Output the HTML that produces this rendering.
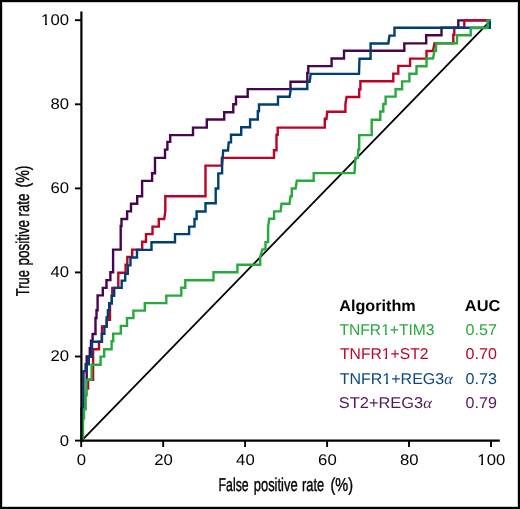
<!DOCTYPE html>
<html><head><meta charset="utf-8"><style>
html,body{margin:0;padding:0;background:#fff;}
svg{display:block;will-change:transform;text-rendering:geometricPrecision;}
text{font-family:"Liberation Sans",sans-serif;}
</style></head><body>
<svg width="520" height="509" viewBox="0 0 520 509">
<rect x="0" y="0" width="520" height="509" fill="#fff"/>
<rect x="2.5" y="2.5" width="515" height="504" fill="none" stroke="#cfcfcf" stroke-width="1"/>
<rect x="1" y="1" width="518" height="507" fill="none" stroke="#000" stroke-width="2"/>
<g fill="none" stroke-width="2.4" stroke-linejoin="miter" stroke-linecap="butt">
<line x1="81.2" y1="441.1" x2="490.5" y2="20.7" stroke="#000" stroke-width="1.8"/>
<g transform="translate(0,0.2)">
<polyline stroke="#48054f" stroke-width="1.4" points="83,441 83,418 84,418 84,409 85.5,409 85.5,395 86.5,395 86.5,379.6"/>
<polyline stroke="#48054f" points="86.7,379.6 86.7,356.2 89.8,356.2 89.8,348 91,348 91,340.5 92.6,340.5 92.6,333.8 95.5,333.8 95.5,317.8 96.5,317.8 96.5,310 97.6,310 97.6,295.2 102.8,295.2 102.8,287.7 106.5,287.7 106.5,279.9 110.4,279.9 110.4,272 113.1,272 113.1,249.4 120.7,249.4 120.7,225.8 121.5,225.8 121.5,218.8 127.1,218.8 127.1,211.2 131,211.2 131,203.6 137.2,203.6 137.2,196 142.1,196 142.1,180.7 152.1,180.7 152.1,173 155,173 155,157.7 165,157.7 165,149.4 167.4,149.4 167.4,141.7 170.2,141.7 170.2,134.9 193,134.9 193,127.4 206.8,127.4 206.8,119.3 224.2,119.3 224.2,112 233.3,112 233.3,104 236,104 236,96.5 247.7,96.5 247.7,88.9 290.5,88.9 290.5,81.5 307.3,81.5 307.3,72.7 308.3,72.7 308.3,65.9 331.6,65.9 331.6,58.3 344,58.3 344,50.6 404.3,50.6 404.3,43.2 426.2,43.2 426.2,35.1 441.5,35.1 441.5,27.6 458.3,27.6 458.3,20.2 490.5,20.2"/>
<polyline stroke="#bd0325" stroke-width="1.4" points="83,441 83,418 84,418 84,409 85.5,409 85.5,395 86.5,395 86.5,388.3"/>
<polyline stroke="#bd0325" points="86.5,388.3 88.1,388.3 88.1,379.6 93.1,379.6 93.1,349 99,349 99,341.5 102,341.5 102,326.3 106.7,326.3 106.7,319.5 110,319.5 110,303 111.8,303 111.8,295.6 112.3,295.6 112.3,287.7 118.3,287.7 118.3,272.5 125.6,272.5 125.6,264.6 127.3,264.6 127.3,256.8 132.2,256.8 132.2,249.4 142.2,249.4 142.2,241.5 146,241.5 146,233.9 152.5,233.9 152.5,226.4 158.8,226.4 158.8,218.8 164.2,218.8 165.3,211.2 165.3,196 205.5,196 205.5,165.4 221.8,165.4 221.8,157.7 274,157.7 274,150 276.5,150 276.5,134.5 277.7,134.5 277.7,127.4 324.8,127.4 324.8,118.6 326.5,118.6 327.2,111.6 345.4,111.6 345.4,104 346.6,96.8 359.2,96.8 359.2,89.2 360.4,89.2 360.4,81.1 393.3,81.1 393.3,73.4 398.3,73.4 398.3,65.7 410.1,65.7 410.1,58.4 426.5,58.4 426.5,50.8 433,50.8 434.5,43.1 453.3,43.1 453.3,34.5 454.3,34.5 454.3,27.6 464.3,27.6 464.3,20.2 490.5,20.2"/>
<polyline stroke="#003f76" points="81.5,441 81.5,408 83.5,408 83.5,371 85.6,371 85.6,364 88.8,364 88.8,356.6 92,356.6 92,341.5 101.8,341.5 101.8,333.6 104.4,333.6 104.4,326.3 106.7,326.3 106.7,317 107.9,317 107.9,310 109.2,310 109.2,303 111.8,303 111.8,295.6 114.2,295.6 114.2,287.7 121.7,287.7 121.7,280.4 125.2,280.4 125.2,273.5 127.8,273.5 127.8,265.2 130.5,265.2 130.5,257.3 137,257.3 137,249.7 151.5,249.7 151.5,242 175,242 175,233.9 189.1,233.9 189.1,226.4 194.5,226.4 194.5,218.8 196.6,218.8 196.6,211.3 205.5,211.3 205.5,203 215.7,203 215.7,188.3 218.3,188.3 218.3,173.2 222.1,173.2 222.1,166 223.2,150.3 228,150.3 228.7,142.2 231,142.2 231,134.6 241.2,134.6 241.2,127 250.1,127 250.1,119.3 257.8,119.3 257.8,111 259,111 259,104.3 278,104.3 278,96.5 289.6,96.5 290.8,88.8 307.3,88.8 307.3,81.6 309.7,81.6 310.7,73.7 359,73.7 359.5,58.5 370.6,58.5 370.6,43.3 388.3,43.3 389.5,35.4 394.5,35.4 394.5,27.6 489.8,27.6 489.8,20.2"/>
<polyline stroke="#26aa3c" points="83,441 83,418 84,418 84,409 85.5,409 85.5,395 86.5,395 86.5,379.6 91.6,379.6 91.6,364.5 100.6,364.5 100.6,356.4 104.2,356.4 104.2,349 111.6,349 111.6,341 113.2,341 113.2,333.4 120.8,333.4 120.8,325.7 127,325.7 127,317.9 133.4,317.9 133.4,310.4 144.8,310.4 144.8,302.9 166.3,302.9 166.3,295.4 181.3,295.4 181.3,287.6 185.3,287.6 185.3,280.1 213.5,280.1 213.5,272.1 237.4,272.1 237.4,264.5 260.2,264.5 260.2,256.8 262.4,249.2 265.5,249.2 265.5,241.9 268.1,241.9 268.1,227 269.2,218.6 274.1,218.6 274.1,211.2 280.6,211.2 281.5,203.6 289.5,203.6 290.5,196 291.8,196 291.8,188.3 295.6,188.3 296.8,180.6 313.7,180.6 313.7,172.9 354.5,172.9 355.5,157.7 357.8,157.7 358.3,149.5 359.2,149.5 359.2,134.9 371.7,134.9 371.7,119.5 380.3,119.5 380.3,111.3 383.3,111.3 383.3,103.8 385.6,103.8 385.6,96.4 395.6,96.4 395.6,89 402.1,89 402.1,81.2 409.4,81.2 409.4,73.6 416.5,73.6 416.5,66 426.5,66 426.5,58.3 433,58.3 434.5,50.5 436,50.5 436,43.1 457,43.1 457,35 470.7,35 470.7,27.8 487.6,27.8 487.6,20.2 490.5,20.2"/>
</g>
</g>
<g stroke="#000" stroke-width="2">
<line x1="81.4" y1="11.4" x2="81.4" y2="441.7" stroke-width="2.2"/>
<line x1="80.3" y1="440.6" x2="499.8" y2="440.6" stroke-width="2.2"/>
<line stroke-width="1.9" x1="75" x2="81" y1="440.6" y2="440.6"/><line stroke-width="1.9" x1="75" x2="81" y1="356.5" y2="356.5"/><line stroke-width="1.9" x1="75" x2="81" y1="272.4" y2="272.4"/><line stroke-width="1.9" x1="75" x2="81" y1="188.4" y2="188.4"/><line stroke-width="1.9" x1="75" x2="81" y1="104.3" y2="104.3"/><line stroke-width="1.9" x1="75" x2="81" y1="20.2" y2="20.2"/><line stroke-width="1.9" x1="81.2" x2="81.2" y1="441" y2="447"/><line stroke-width="1.9" x1="163.2" x2="163.2" y1="441" y2="447"/><line stroke-width="1.9" x1="245.1" x2="245.1" y1="441" y2="447"/><line stroke-width="1.9" x1="327.1" x2="327.1" y1="441" y2="447"/><line stroke-width="1.9" x1="409.0" x2="409.0" y1="441" y2="447"/><line stroke-width="1.9" x1="491.0" x2="491.0" y1="441" y2="447"/>
</g>
<g font-size="15.5" fill="#000"><text x="69" y="445.5" text-anchor="end" textLength="9.29" lengthAdjust="spacingAndGlyphs">0</text><text x="69" y="361.4" text-anchor="end" textLength="18.58" lengthAdjust="spacingAndGlyphs">20</text><text x="69" y="277.3" text-anchor="end" textLength="18.58" lengthAdjust="spacingAndGlyphs">40</text><text x="69" y="193.3" text-anchor="end" textLength="18.58" lengthAdjust="spacingAndGlyphs">60</text><text x="69" y="109.2" text-anchor="end" textLength="18.58" lengthAdjust="spacingAndGlyphs">80</text><text x="69" y="25.1" text-anchor="end" textLength="27.86" lengthAdjust="spacingAndGlyphs">100</text><text x="81.5" y="464.9" text-anchor="middle" textLength="9.29" lengthAdjust="spacingAndGlyphs">0</text><text x="163.5" y="464.9" text-anchor="middle" textLength="18.58" lengthAdjust="spacingAndGlyphs">20</text><text x="245.4" y="464.9" text-anchor="middle" textLength="18.58" lengthAdjust="spacingAndGlyphs">40</text><text x="327.4" y="464.9" text-anchor="middle" textLength="18.58" lengthAdjust="spacingAndGlyphs">60</text><text x="409.3" y="464.9" text-anchor="middle" textLength="18.58" lengthAdjust="spacingAndGlyphs">80</text><text x="491.3" y="464.9" text-anchor="middle" textLength="27.86" lengthAdjust="spacingAndGlyphs">100</text></g>
<g stroke="#000" stroke-width="0.4">
<text x="218.6" y="491.2" font-size="18.6" textLength="30.06" lengthAdjust="spacingAndGlyphs">False</text>
<text x="253.7" y="491.2" font-size="18.6" textLength="44.0" lengthAdjust="spacingAndGlyphs">positive</text>
<text x="302.0" y="491.2" font-size="18.6" textLength="22.2" lengthAdjust="spacingAndGlyphs">rate</text>
<text x="330.4" y="491.2" font-size="18.6" textLength="22.6" lengthAdjust="spacingAndGlyphs">(%)</text>
<text transform="translate(28.9,296.2) rotate(-90)" font-size="18.6" textLength="26.1" lengthAdjust="spacingAndGlyphs">True</text>
<text transform="translate(28.9,265.5) rotate(-90)" font-size="18.6" textLength="45.6" lengthAdjust="spacingAndGlyphs">positive</text>
<text transform="translate(28.9,216.4) rotate(-90)" font-size="18.6" textLength="22.7" lengthAdjust="spacingAndGlyphs">rate</text>
<text transform="translate(28.9,187.6) rotate(-90)" font-size="18.6" textLength="22.1" lengthAdjust="spacingAndGlyphs">(%)</text>
</g>
<g font-size="15.6">
<text x="339.3" y="310.6" font-weight="bold" font-size="15.8" textLength="76.4" lengthAdjust="spacingAndGlyphs">Algorithm</text>
<text x="464.8" y="310.7" font-weight="bold" font-size="15.8" textLength="35.5" lengthAdjust="spacingAndGlyphs">AUC</text>
<text x="339.5" y="334.8" fill="#26aa3c" textLength="95" lengthAdjust="spacingAndGlyphs">TNFR1+TIM3</text><text x="465.6" y="334.8" fill="#26aa3c" textLength="31.3" lengthAdjust="spacingAndGlyphs">0.57</text>
<text x="340" y="359.2" fill="#bd0325" textLength="88.5" lengthAdjust="spacingAndGlyphs">TNFR1+ST2</text><text x="465.6" y="359.2" fill="#bd0325" textLength="31.3" lengthAdjust="spacingAndGlyphs">0.70</text>
<text x="339.7" y="383.6" fill="#0a4880" textLength="112.9" lengthAdjust="spacingAndGlyphs">TNFR1+REG3<tspan font-family="Liberation Serif" font-style="italic">α</tspan></text><text x="465.6" y="383.6" fill="#0a4880" textLength="31.3" lengthAdjust="spacingAndGlyphs">0.73</text>
<text x="338.8" y="408.1" fill="#561660" textLength="93" lengthAdjust="spacingAndGlyphs">ST2+REG3<tspan font-family="Liberation Serif" font-style="italic">α</tspan></text><text x="465.6" y="408.1" fill="#561660" textLength="31.3" lengthAdjust="spacingAndGlyphs">0.79</text>
</g>
<g fill="#fff"><rect x="42" y="23" width="3" height="2"/><rect x="47" y="23" width="3" height="2"/><rect x="478" y="463" width="3" height="2"/><rect x="483" y="463" width="3" height="2"/><rect x="382" y="333" width="3" height="2"/><rect x="387" y="333" width="3" height="2"/><rect x="382" y="357" width="3" height="2"/><rect x="387" y="357" width="3" height="2"/><rect x="382" y="382" width="4" height="2"/><rect x="388" y="382" width="3" height="2"/></g>
</svg>
</body></html>
